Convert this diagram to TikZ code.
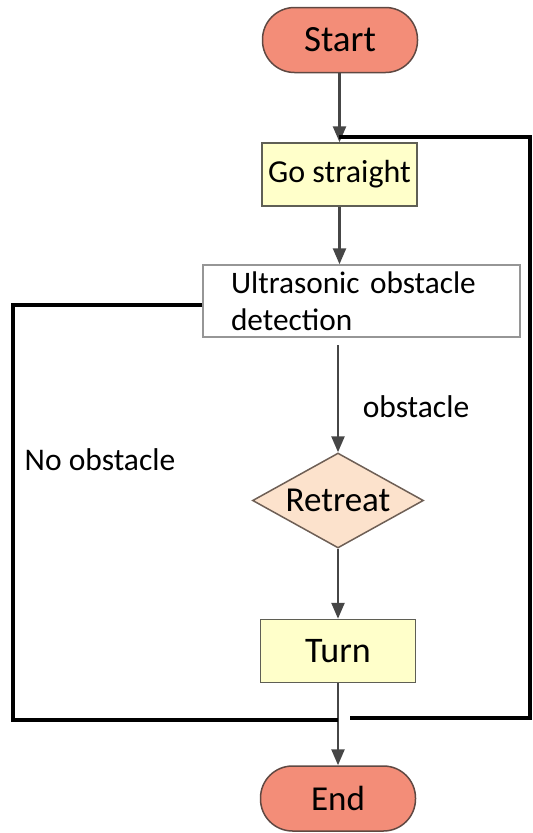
\documentclass[tikz,border=0pt]{standalone}
\usepackage{fontspec}
\setmainfont{Carlito}
\usetikzlibrary{arrows.meta,shapes.geometric}
\definecolor{termfill}{RGB}{243,141,120}
\definecolor{termborder}{RGB}{95,72,66}
\definecolor{procfill}{RGB}{255,255,202}
\definecolor{procborder}{RGB}{95,95,85}
\definecolor{dmfill}{RGB}{252,226,204}
\definecolor{dmborder}{RGB}{110,95,85}
\definecolor{usborder}{RGB}{150,150,150}
\definecolor{flowgray}{RGB}{70,70,70}
\begin{document}
\begin{tikzpicture}[x=1pt,y=-1pt,
  term/.style={draw=termborder, line width=1.5pt, fill=termfill, rounded corners=32pt,
    minimum width=155pt, minimum height=65pt, inner sep=2pt},
  proc/.style={draw=procborder, line width=1.5pt, fill=procfill, minimum width=155pt,
    minimum height=63pt, inner sep=2pt},
  usbox/.style={draw=usborder, line width=1.5pt, fill=white, text width=261pt, inner xsep=28pt,
    inner ysep=0pt, minimum height=72pt, align=left, font=\fontsize{31.3}{37}\selectfont},
  dmshape/.style={diamond, aspect=1.8, draw=dmborder, line width=1.5pt, fill=dmfill, minimum width=171pt,
    minimum height=95pt, inner sep=0pt, font=\fontsize{35}{40}\selectfont},
  flow/.style={draw=flowgray, line width=2.5pt, -{Triangle[length=16pt,width=13pt]}},
  loopline/.style={draw=black, line width=3.5pt},
  lbl/.style={font=\fontsize{31.5}{36}\selectfont, inner sep=0pt}]
\useasboundingbox (0,0) rectangle (533,833);
\node[term, font=\fontsize{37}{42}\selectfont] (start) at (340,40) {Start};
\node[proc, font=\fontsize{32}{38}\selectfont] (gs) at (339.5,174.5) {Go straight};
\node[usbox] (us) at (361.5,301) {Ultrasonic obstacle\\detection};
\node[dmshape] (dm) at (338,500.5) {Retreat};
\node[proc, font=\fontsize{36}{40}\selectfont] (turn) at (338,651) {Turn};
\node[term, font=\fontsize{35}{40}\selectfont] (end) at (338,798.5) {End};
\node[lbl] (obs) at (416,407) {obstacle};
\node[lbl] (noobs) at (100,460) {No obstacle};
\coordinate (usout) at (338,345);
\coordinate (rtop) at (339,137);
\coordinate (rx) at (530,0);
\coordinate (rend) at (350,718);
\coordinate (lx) at (13,720);
\coordinate (lend) at (338,720);
\draw[flow] (start.south -| gs.north) -- (gs.north);
\draw[flow] (gs.south) -- (gs.south |- us.north);
\draw[flow] (usout) -- (dm.north);
\draw[flow] (dm.south) -- (turn.north);
\draw[flow] (turn.south) -- (end.north);
\draw[loopline] (rtop) -| (rx |- rend) -- (rend);
\draw[loopline] ([yshift=-4pt]us.west) -| (lx) -- (lend);
\end{tikzpicture}
\end{document}
